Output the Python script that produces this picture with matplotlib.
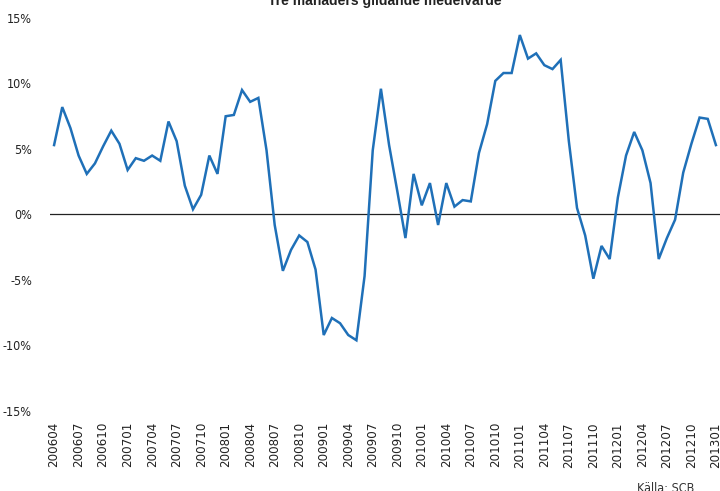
import matplotlib.pyplot as plt
import numpy as np

# Three-month moving average, monthly from 200604 to 201301 (percent)
values = [5.3, 8.2, 6.6, 4.5, 3.1, 3.9, 5.2, 6.4, 5.4, 3.4,
          4.3, 4.1, 4.5, 4.1, 7.1, 5.6, 2.2, 0.4, 1.5, 4.5,
          3.1, 7.5, 7.6, 9.5, 8.6, 8.9, 4.9, -0.8, -4.3, -2.7,
          -1.6, -2.1, -4.2, -9.2, -7.9, -8.3, -9.2, -9.6, -4.7, 4.9,
          9.6, 5.3, 1.8, -1.8, 3.1, 0.7, 2.4, -0.8, 2.4, 0.6,
          1.1, 1.0, 4.7, 6.9, 10.2, 10.8, 10.8, 13.7, 11.9, 12.3,
          11.4, 11.1, 11.8, 5.6, 0.5, -1.6, -4.9, -2.4, -3.4, 1.3,
          4.5, 6.3, 4.9, 2.4, -3.4, -1.8, -0.4, 3.2, 5.4, 7.4,
          7.3, 5.3]

months = []
y, m = 2006, 4
for _ in values:
    months.append(f"{y}{m:02d}")
    m += 1
    if m > 12:
        m = 1
        y += 1

yticks = [-15, -10, -5, 0, 5, 10, 15]

fig = plt.figure(figsize=(7.2, 4.91), dpi=100)
ax = fig.add_axes([50 / 720, 1 - 411 / 491, 1 - 50 / 720, (411 - 18) / 491])

x = np.arange(len(values))
ax.plot(x, values, color='#1f70b8', linewidth=1.8, solid_joinstyle='miter')
ax.axhline(0, color='#222222', linewidth=0.9, zorder=0)

ax.set_xlim(-0.5, 81.5)
ax.set_ylim(-15, 15)
ax.set_yticks(yticks)
ax.set_yticklabels([f"{t}%" for t in yticks], family='DejaVu Sans',
                   stretch='condensed', fontsize=9, color='#222222')
ax.set_xticks(x[::3])
ax.set_xticklabels(months[::3], rotation=90, fontsize=8.6, family='DejaVu Sans',
                   color='#222222')
ax.tick_params(axis='both', length=0)
ax.tick_params(axis='y', pad=13)
ax.tick_params(axis='x', pad=8)
for s in ax.spines.values():
    s.set_visible(False)

fig.text(385 / 720, 1.0, "Tre månaders glidande medelvärde", ha='center', va='center',
         fontsize=10, fontweight='bold', family='Liberation Sans', color='#222222')
fig.text(637 / 720, 1 - 489 / 491, "Källa: SCB", ha='left', va='center',
         fontsize=9, family='DejaVu Sans', stretch='condensed', color='#333333')

fig.savefig('out.png', dpi=100)
